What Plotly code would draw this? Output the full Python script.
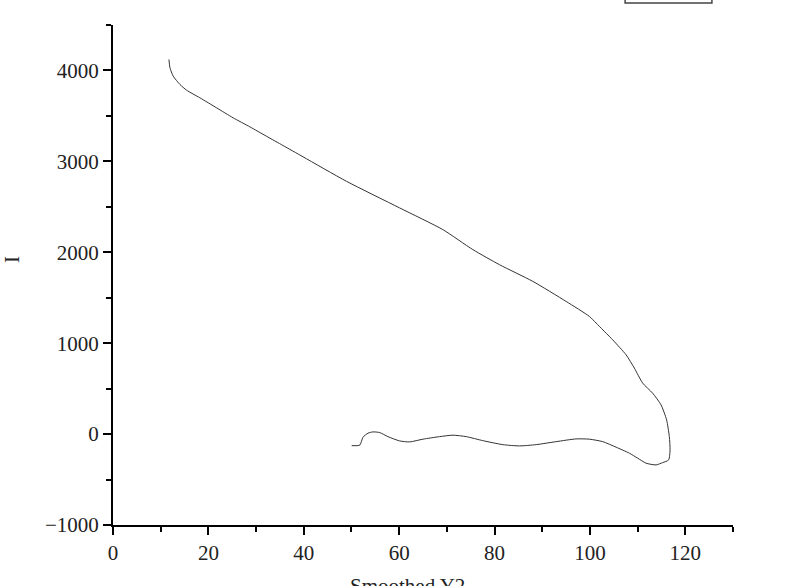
import plotly.graph_objects as go

# Data (Smoothed Y2 vs I), ordered along the curve
smoothed_y2 = [11.73, 11.94, 12.63, 14.03, 15.43, 18.22, 21.72, 25.19, 28.69, 32.19,
               35.66, 39.85, 48.94, 60.10, 69.17, 75.46, 81.05, 88.02, 95.02, 99.90,
               101.30, 104.77, 107.58, 109.32, 111.06, 113.15, 114.91, 116.08, 116.65, 116.80,
               116.50, 115.25, 113.86, 111.77, 110.01, 108.27, 105.49, 102.68, 99.90, 97.11,
               92.92, 88.73, 85.24, 81.74, 77.55, 74.07, 71.27, 68.48, 64.98, 62.20,
               60.10, 57.65, 55.92, 54.51, 53.47, 52.42, 51.73, 50.05]
i_values = [4121, 4030, 3937, 3846, 3783, 3699, 3589, 3479, 3380, 3276,
            3174, 3050, 2781, 2488, 2249, 2029, 1863, 1680, 1459, 1294,
            1221, 1037, 872, 726, 561, 450, 322, 156, -28, -174,
            -284, -314, -339, -320, -265, -210, -144, -83, -56, -53,
            -83, -116, -130, -116, -72, -28, -12, -28, -56, -86,
            -75, -28, 17, 24, 10, -34, -122, -127]

x_ticks = [0, 20, 40, 60, 80, 100, 120]
y_ticks = [-1000, 0, 1000, 2000, 3000, 4000]

FONT = "Liberation Serif"

fig = go.Figure()
fig.add_trace(go.Scatter(
    x=smoothed_y2, y=i_values, mode="lines",
    line=dict(color="#333333", width=1, shape="spline", smoothing=0.6),
    name="I", showlegend=False,
))

axis_common = dict(
    showline=True, linecolor="black", linewidth=2,
    ticks="outside", ticklen=8, tickwidth=2, tickcolor="black",
    showgrid=False, zeroline=False, mirror=False,
    tickfont=dict(family=FONT, size=21, color="#222222"),
)

fig.update_layout(
    width=800, height=586,
    margin=dict(l=113, r=67, t=25, b=61),
    paper_bgcolor="white", plot_bgcolor="white",
    xaxis=dict(range=[0, 130], tickvals=x_ticks,
               minor=dict(dtick=10, tick0=0, ticks="outside", ticklen=5, tickwidth=2, tickcolor="black"),
               **axis_common),
    yaxis=dict(range=[-1000, 4500], tickvals=y_ticks,
               minor=dict(dtick=500, tick0=-1000, ticks="outside", ticklen=5, tickwidth=2, tickcolor="black"),
               **axis_common),
    annotations=[
        dict(text="Smoothed Y2", xref="paper", yref="paper", x=0.475, y=0, yshift=-47,
             xanchor="center", yanchor="top", showarrow=False,
             font=dict(family=FONT, size=21, color="#222222")),
        dict(text="I", xref="paper", yref="paper", x=0, xshift=-101, y=0.53,
             xanchor="center", yanchor="middle", textangle=-90, showarrow=False,
             font=dict(family=FONT, size=21, color="#222222")),
    ],
    shapes=[
        dict(type="rect", xref="paper", yref="paper",
             x0=0.826, x1=0.966, y0=1.044, y1=1.2,
             line=dict(color="#444444", width=1.5), fillcolor="rgba(0,0,0,0)"),
    ],
)

fig.write_html("out.html", config={"displayModeBar": False},
               post_script="document.body.style.margin='0';")
